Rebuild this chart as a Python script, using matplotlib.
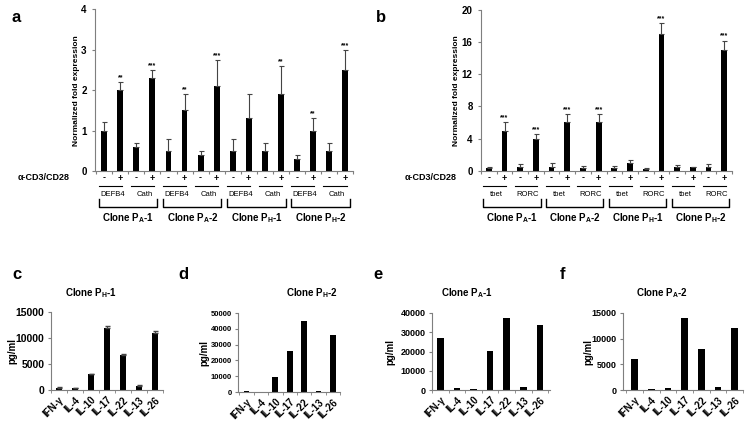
import numpy as np
import matplotlib
matplotlib.use("Agg")
import matplotlib.pyplot as plt
from matplotlib.transforms import blended_transform_factory

plt.rcParams['font.family'] = ['Liberation Sans', 'DejaVu Sans']
plt.rcParams['mathtext.fontset'] = 'custom'
plt.rcParams['mathtext.rm'] = 'Liberation Sans:bold'
plt.rcParams['mathtext.bf'] = 'Liberation Sans:bold'
plt.rcParams['mathtext.it'] = 'Liberation Sans:bold'

# panel a: DEFB4 / Cath, (-, +) per clone
clones = [r'Clone P$_\mathbf{A}$-1', r'Clone P$_\mathbf{A}$-2',
          r'Clone P$_\mathbf{H}$-1', r'Clone P$_\mathbf{H}$-2']
genes_a = ['DEFB4', 'Cath']
vals_a = [1.0, 2.0, 0.6, 2.3, 0.5, 1.5, 0.4, 2.1,
          0.5, 1.3, 0.5, 1.9, 0.3, 1.0, 0.5, 2.5]
err_a = [0.2, 0.2, 0.1, 0.2, 0.3, 0.4, 0.1, 0.65,
         0.3, 0.6, 0.2, 0.7, 0.1, 0.3, 0.2, 0.5]
stars_a = ['', '**', '', '***', '', '**', '', '***',
           '', '', '', '**', '', '**', '', '***']

# panel b: tbet / RORC
genes_b = ['tbet', 'RORC']
vals_b = [0.3, 5.0, 0.5, 4.0, 0.5, 6.0, 0.3, 6.0,
          0.3, 1.0, 0.2, 17.0, 0.4, 0.4, 0.4, 15.0]
err_b = [0.1, 1.1, 0.3, 0.6, 0.4, 1.1, 0.3, 1.0,
         0.3, 0.3, 0.1, 1.4, 0.3, 0.1, 0.4, 1.2]
stars_b = ['', '***', '', '***', '', '***', '', '***',
           '', '', '', '***', '', '', '', '***']

# panels c-f: cytokines (pg/ml)
cytokines = ['IFN-γ', 'IL-4', 'IL-10', 'IL-17', 'IL-22', 'IL-13', 'IL-26']
ph1 = [300, 300, 3000, 12000, 6800, 800, 11100]
ph1_err = [300, 100, 100, 400, 100, 100, 200]
ph2 = [800, 200, 9200, 25800, 44800, 800, 35800]
pa1 = [27000, 1200, 300, 20500, 37500, 1500, 33800]
pa2 = [6000, 100, 400, 14000, 8000, 500, 12000]

W, H = 750, 423
fig = plt.figure(figsize=(7.5, 4.23), dpi=100)
axcol = '#7f7f7f'


def px(x, y, w, h):
    return [x / W, 1 - (y + h) / H, w / W, h / H]


def style(ax):
    for s in ['top', 'right']:
        ax.spines[s].set_visible(False)
    for s in ['left', 'bottom']:
        ax.spines[s].set_color(axcol)
        ax.spines[s].set_linewidth(0.8)
    ax.tick_params(colors=axcol, labelcolor='black', length=2.5, width=0.8)


def expr_panel(rect, vals, errs, stars, genes, ymax, yticks, xlim, ylab_x, lab_x, letter):
    ax = fig.add_axes(px(*rect))
    style(ax)
    x = np.arange(len(vals))
    ax.bar(x, vals, width=0.37, color='black', zorder=2)
    ax.errorbar(x, vals, yerr=[np.zeros(len(vals)), errs], fmt='none',
                ecolor='#444444', elinewidth=0.8, capsize=1.8, capthick=0.8, zorder=3)
    for xi, v, e, s in zip(x, vals, errs, stars):
        if s:
            ax.text(xi, v + e + ymax * 0.005, s, ha='center', va='bottom',
                    fontsize=5, fontweight='bold')
    ax.set_ylim(0, ymax)
    ax.set_xlim(*xlim)
    ax.set_yticks(yticks)
    ax.set_yticklabels([str(t) for t in yticks], fontsize=7, fontweight='bold')
    ax.set_xticks(np.arange(-0.5, len(vals), 1))
    ax.set_xticklabels([])
    tr = blended_transform_factory(ax.transData, fig.transFigure)
    fy = lambda p: 1 - p / H
    for i, xi in enumerate(x):
        ax.text(xi, fy(178), '-' if i % 2 == 0 else '+', transform=tr,
                ha='center', va='center', fontsize=6.5, fontweight='bold')
    for p in range(0, len(vals), 2):
        ax.plot([p - 0.35, p + 1.1], [fy(186), fy(186)], transform=tr,
                color='black', lw=0.8, clip_on=False)
        ax.text(p + 0.5, fy(194), genes[(p // 2) % 2], transform=tr,
                ha='center', va='center', fontsize=5.5)
    for g in range(4):
        x0, x1 = g * 4 - 0.35, g * 4 + 3.3
        ax.plot([x0, x0, x1, x1], [fy(199), fy(207), fy(207), fy(199)],
                transform=tr, color='black', lw=1.0, clip_on=False)
        ax.text(g * 4 + 1.5, fy(218), clones[g], transform=tr, ha='center',
                va='center', fontsize=7, fontweight='bold')
    fig.text(lab_x / W, fy(178), 'α-CD3/CD28', ha='left', va='center',
             fontsize=6.5, fontweight='bold')
    fig.text(ylab_x / W, fy((rect[1] + rect[1] + rect[3]) / 2),
             'Normalized fold expression', rotation=90, ha='center',
             va='center', fontsize=6, fontweight='bold')
    fig.text(letter[1] / W, fy(letter[2]), letter[0], ha='left', va='center',
             fontsize=12, fontweight='bold')
    return ax


expr_panel((95, 9.3, 258, 161.7), vals_a, err_a, stars_a, genes_a, 4,
           [0, 1, 2, 3, 4], (-0.58, 15.4), 76, 18, ('a', 12, 17))
expr_panel((481, 10, 251, 160.7), vals_b, err_b, stars_b, genes_b, 20,
           [0, 4, 8, 12, 16, 20], (-0.41, 15.5), 457, 405, ('b', 376, 17))


def cyto_panel(rect, vals, errs, ymax, yticks, xlim, tick_fs, title, title_x, ylab_x, letter):
    ax = fig.add_axes(px(*rect))
    style(ax)
    x = np.arange(len(vals))
    ax.bar(x, vals, width=0.4, color='black', zorder=2)
    if errs is not None:
        ax.errorbar(x, vals, yerr=[np.zeros(len(vals)), errs], fmt='none',
                    ecolor='#444444', elinewidth=0.8, capsize=1.8, zorder=3)
    ax.set_ylim(0, ymax)
    ax.set_xlim(*xlim)
    ax.set_yticks(yticks)
    ax.set_yticklabels([str(t) for t in yticks], fontsize=tick_fs, fontweight='bold')
    ax.tick_params(axis='y', pad=2)
    ax.set_xticks(np.arange(-0.5, len(vals), 1), minor=True)
    ax.set_xticks(x)
    ax.tick_params(axis='x', which='major', length=0)
    ax.tick_params(axis='x', which='minor', length=2.5, color=axcol)
    ax.set_xticklabels(cytokines, rotation=45, ha='right', rotation_mode='anchor',
                       fontsize=7, fontweight='bold')
    fig.text(title_x / W, 1 - 293 / H, title, ha='center', va='center',
             fontsize=7, fontweight='bold')
    fig.text(ylab_x / W, 1 - (rect[1] + rect[3] / 2) / H, 'pg/ml', rotation=90,
             ha='center', va='center', fontsize=7, fontweight='bold')
    fig.text(letter[1] / W, 1 - 274 / H, letter[0], ha='left', va='center',
             fontsize=12, fontweight='bold')


cyto_panel((50.7, 312.3, 112.3, 77.7), ph1, ph1_err, 15000, [0, 5000, 10000, 15000],
           (-0.37, 6.49), 7.5, r'Clone P$_\mathbf{H}$-1', 91, 12, ('c', 12))
cyto_panel((238, 313, 102, 79), ph2, None, 50000,
           [0, 10000, 20000, 30000, 40000, 50000], (-0.6, 6.4), 5.5,
           r'Clone P$_\mathbf{H}$-2', 312, 204, ('d', 178))
cyto_panel((432, 313, 118, 77), pa1, None, 40000,
           [0, 10000, 20000, 30000, 40000], (-0.5, 6.6), 6.5,
           r'Clone P$_\mathbf{A}$-1', 467, 390, ('e', 373))
cyto_panel((623, 313, 120, 77), pa2, None, 15000, [0, 5000, 10000, 15000],
           (-0.7, 6.4), 6.5, r'Clone P$_\mathbf{A}$-2', 662, 588, ('f', 560))

fig.savefig('out.png', dpi=100)
